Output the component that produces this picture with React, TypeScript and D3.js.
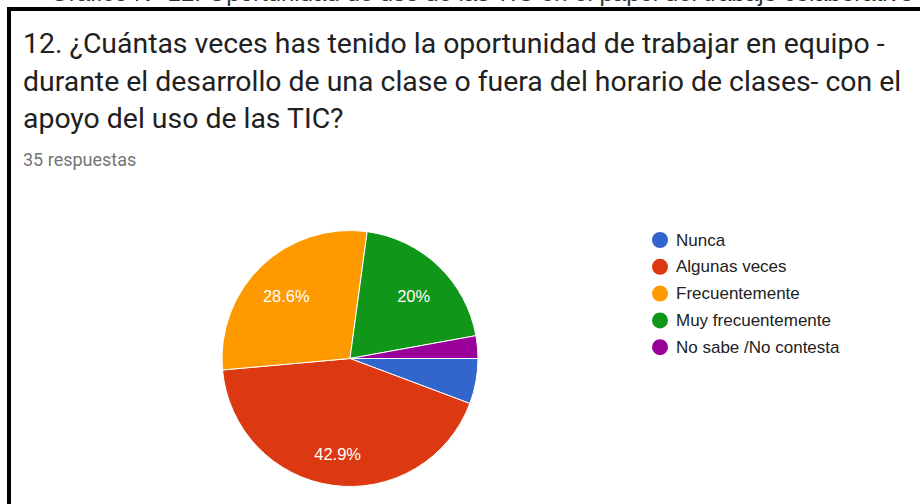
import React, { useEffect, useRef } from "react";
import * as d3 from "d3";

const categories = ["Nunca", "Algunas veces", "Frecuentemente", "Muy frecuentemente", "No sabe /No contesta"];
const counts = [2, 15, 10, 7, 1];
const colors = ["#3366cc", "#dc3912", "#ff9900", "#109618", "#990099"];
const titleLines = [
  "12. ¿Cuántas veces has tenido la oportunidad de trabajar en equipo -",
  "durante el desarrollo de una clase o fuera del horario de clases- con el",
  "apoyo del uso de las TIC?",
];
const subtitle = "35 respuestas";
const topCutText = "Gráfico N° 12: Oportunidad de uso de las TIC en el papel del trabajo colaborativo en el aula";

const W = 920;
const H = 504;

export default function App() {
  const ref = useRef<SVGSVGElement | null>(null);

  useEffect(() => {
    const svg = d3.select(ref.current);
    svg.selectAll("*").remove();

    svg.append("rect").attr("width", W).attr("height", H).attr("fill", "#fff");

    // cut-off line of text above the card
    svg.append("text")
      .attr("x", 50).attr("y", 1)
      .style("font-family", "Arial, 'Liberation Sans', sans-serif")
      .style("font-size", "24px").attr("fill", "#333")
      .text(topCutText);

    // card border
    svg.append("rect")
      .attr("x", 9).attr("y", 9).attr("width", 1000).attr("height", 1000)
      .attr("fill", "none").attr("stroke", "#000").attr("stroke-width", 4);

    const title = svg.append("g");
    titleLines.forEach((t, i) => {
      title.append("text")
        .attr("x", 23).attr("y", 53 + i * 37.5)
        .style("font-family", "Roboto, sans-serif")
        .style("font-size", "28.4px").attr("fill", "#212121")
        .text(t);
    });

    svg.append("text")
      .attr("x", 23).attr("y", 166)
      .style("font-family", "Roboto, sans-serif")
      .style("font-size", "18px").attr("fill", "#757575")
      .text(subtitle);

    const cx = 350, cy = 358.5, R = 128;
    const total = d3.sum(counts);
    const data = categories.map((c, i) => ({ c, v: counts[i], color: colors[i] }));

    const pie = d3.pie<any>().value((d) => d.v).sort(null)
      .startAngle(Math.PI / 2).endAngle(Math.PI / 2 + 2 * Math.PI);
    const arc = d3.arc<any>().innerRadius(0).outerRadius(R);
    const labelArc = d3.arc<any>().innerRadius(R * 0.72).outerRadius(R * 0.72);
    const arcs = pie(data);

    const g = svg.append("g").attr("transform", `translate(${cx},${cy})`);
    g.selectAll("path").data(arcs).join("path")
      .attr("d", arc)
      .attr("fill", (d) => d.data.color)
      .attr("stroke", "#fff").attr("stroke-width", 1);

    g.selectAll("text").data(arcs.filter((d) => d.data.v / total > 0.1)).join("text")
      .attr("transform", (d) => {
        const [x, y] = labelArc.centroid(d);
        return `translate(${x},${y + 4})`;
      })
      .attr("text-anchor", "middle").attr("dominant-baseline", "central")
      .style("font-family", "Arial, 'Liberation Sans', sans-serif")
      .style("font-size", "16.5px").attr("fill", "#fff")
      .text((d) => `${d3.format(".3~r")((d.data.v / total) * 100)}%`);

    const legend = svg.append("g").attr("transform", "translate(660,240)");
    const row = legend.selectAll("g").data(data).join("g")
      .attr("transform", (_d, i) => `translate(0,${i * 26.8})`);
    row.append("circle").attr("r", 8).attr("fill", (d) => d.color);
    row.append("text")
      .attr("x", 16).attr("dominant-baseline", "central")
      .style("font-family", "Arial, 'Liberation Sans', sans-serif")
      .style("font-size", "17px").attr("fill", "#222")
      .text((d) => d.c);
  }, []);

  return (
    <svg ref={ref} width={W} height={H}
      style={{ position: "absolute", left: 0, top: 0, display: "block" }} />
  );
}
